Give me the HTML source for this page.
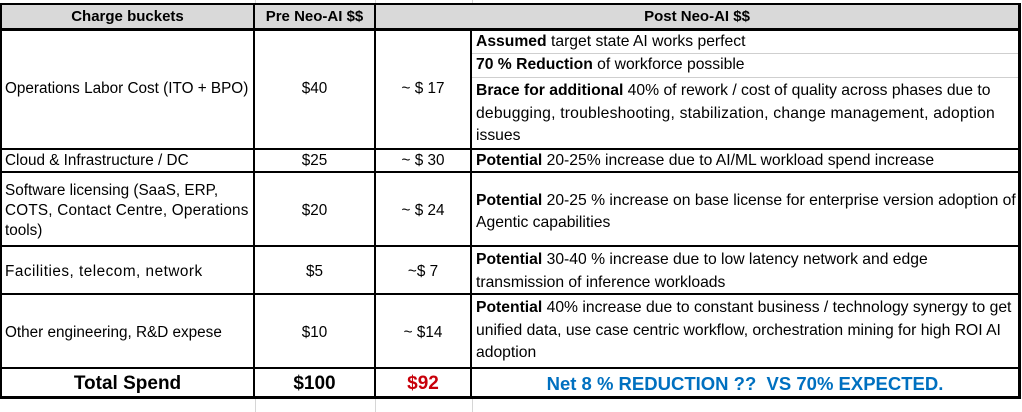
<!DOCTYPE html>
<html><head><meta charset="utf-8"><style>
body{margin:0;width:1022px;height:412px;background:#fff;position:relative;overflow:hidden;font-family:"Liberation Sans",Arial,sans-serif;color:#000;}
.h{position:absolute;background:#000;}
.g{position:absolute;background:#d6d6d6;}
.t{position:absolute;font-size:15.3px;white-space:nowrap;line-height:22px;}
.r{font-size:15.7px;}
.c{text-align:center;}
.hd{position:absolute;font-size:15px;font-weight:bold;line-height:22px;top:6px;text-align:center;white-space:nowrap;}
.tot{position:absolute;font-size:19px;font-weight:bold;line-height:26px;top:371px;text-align:center;white-space:nowrap;}
</style></head><body>
<!-- spreadsheet faint gridlines -->
<div class="g" style="left:255px;top:0;width:1px;height:4px"></div>
<div class="g" style="left:375px;top:0;width:1px;height:4px"></div>
<div class="g" style="left:472px;top:0;width:1px;height:4px"></div>
<div class="g" style="left:255px;top:398px;width:1px;height:14px"></div>
<div class="g" style="left:375px;top:398px;width:1px;height:14px"></div>
<div class="g" style="left:472px;top:398px;width:1px;height:14px"></div>

<!-- header background -->
<div style="position:absolute;left:0;top:4px;width:1020px;height:25px;background:#d9d9d9"></div>

<!-- thin inner gray lines in row 1 -->
<div class="g" style="left:472px;top:53px;width:546px;height:1px;background:#cfcfcf"></div>
<div class="g" style="left:472px;top:77px;width:546px;height:1px;background:#cfcfcf"></div>

<!-- horizontal black lines -->
<div class="h" style="left:0;top:3px;width:1021px;height:2px"></div>
<div class="h" style="left:0;top:28px;width:1021px;height:3px"></div>
<div class="h" style="left:0;top:148px;width:1021px;height:2px"></div>
<div class="h" style="left:0;top:171px;width:1021px;height:2px"></div>
<div class="h" style="left:0;top:245px;width:1021px;height:2px"></div>
<div class="h" style="left:0;top:293px;width:1021px;height:2px"></div>
<div class="h" style="left:0;top:367px;width:1021px;height:2px"></div>
<div class="h" style="left:0;top:396px;width:1021px;height:3px"></div>

<!-- vertical black lines -->
<div class="h" style="left:0;top:3px;width:2px;height:396px"></div>
<div class="h" style="left:253px;top:3px;width:2px;height:396px"></div>
<div class="h" style="left:374px;top:3px;width:2px;height:396px"></div>
<div class="h" style="left:470px;top:29px;width:2px;height:370px"></div>
<div class="h" style="left:1018px;top:3px;width:3px;height:396px"></div>

<!-- header -->
<div class="hd" style="left:2px;width:251px">Charge buckets</div>
<div class="hd" style="left:255px;width:119px">Pre Neo-AI $$</div>
<div class="hd" style="left:376px;width:642px">Post Neo-AI $$</div>

<!-- row 1 -->
<div class="t" style="left:5px;top:78px">Operations Labor Cost (ITO + BPO)</div>
<div class="t c" style="left:255px;width:119px;top:78px">$40</div>
<div class="t c" style="left:376px;width:94px;top:78px">~ $ 17</div>
<div class="t r" style="left:476px;top:31px"><b>Assumed</b> target state AI works perfect</div>
<div class="t r" style="left:476px;top:54px"><b>70 % Reduction</b> of workforce possible</div>
<div class="t r" style="left:476px;top:80px;line-height:22.5px"><b>Brace for additional</b> 40% of rework / cost of quality across phases due to<br><span style="letter-spacing:0.2px">debugging, troubleshooting, stabilization, change management, adoption</span><br>issues</div>

<!-- row 2 -->
<div class="t" style="left:5px;top:150px">Cloud &amp; Infrastructure / DC</div>
<div class="t c" style="left:255px;width:119px;top:150px">$25</div>
<div class="t c" style="left:376px;width:94px;top:150px">~ $ 30</div>
<div class="t r" style="left:476px;top:150px"><b>Potential</b> 20-25% increase due to AI/ML workload spend increase</div>

<!-- row 3 -->
<div class="t" style="left:5px;top:181px;line-height:20px">Software licensing (SaaS, ERP,<br><span style="letter-spacing:0.2px">COTS, Contact Centre, Operations</span><br>tools)</div>
<div class="t c" style="left:255px;width:119px;top:200px">$20</div>
<div class="t c" style="left:376px;width:94px;top:200px">~ $ 24</div>
<div class="t r" style="left:476px;top:190px;line-height:21.5px"><b>Potential</b> 20-25 % increase on base license for enterprise version adoption of<br>Agentic capabilities</div>

<!-- row 4 -->
<div class="t" style="left:5px;top:261px;letter-spacing:0.5px">Facilities, telecom, network</div>
<div class="t c" style="left:255px;width:119px;top:261px">$5</div>
<div class="t c" style="left:376px;width:94px;top:261px">~$ 7</div>
<div class="t r" style="left:476px;top:249px;line-height:22.5px"><b>Potential</b> 30-40 % increase due to low latency network and edge<br>transmission of inference workloads</div>

<!-- row 5 -->
<div class="t" style="left:5px;top:322px">Other engineering, R&amp;D expese</div>
<div class="t c" style="left:255px;width:119px;top:322px">$10</div>
<div class="t c" style="left:376px;width:94px;top:322px">~ $14</div>
<div class="t r" style="left:476px;top:297px;line-height:22.5px"><b>Potential</b> 40% increase due to constant business / technology synergy to get<br>unified data, use case centric workflow, orchestration mining for high ROI AI<br>adoption</div>

<!-- total -->
<div class="tot" style="left:2px;width:251px">Total Spend</div>
<div class="tot" style="left:255px;width:119px">$100</div>
<div class="tot" style="left:376px;width:94px;color:#c8000a">$92</div>
<div class="tot" style="left:472px;width:546px;color:#0070c0;font-size:18.5px">Net 8 % REDUCTION ??&nbsp; VS 70% EXPECTED.</div>
</body></html>
